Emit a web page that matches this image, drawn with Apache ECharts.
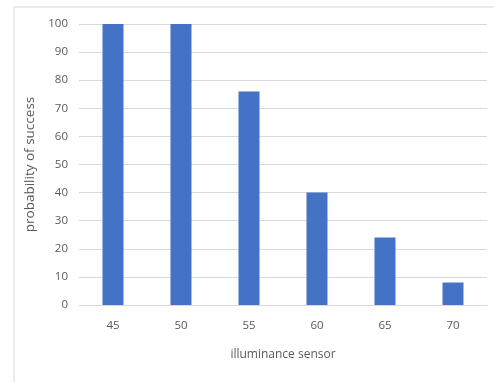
<!DOCTYPE html>
<html><head><meta charset="utf-8">
<script src="https://cdn.jsdelivr.net/npm/echarts@6/dist/echarts.min.js"></script>
<style>html,body{margin:0;padding:0;background:#fff}#c{width:494px;height:382px}</style>
</head><body><div id="c"></div>
<script>
const categories = ['45', '50', '55', '60', '65', '70'];
const successValues = [100, 100, 76, 40, 24, 8];
const yTicks = [0, 10, 20, 30, 40, 50, 60, 70, 80, 90, 100];

const chart = echarts.init(document.getElementById('c'));
const font = 'Open Sans, sans-serif';
chart.setOption({
  animation: false,
  backgroundColor: '#fff',
  graphic: [{
    type: 'rect', left: 11.5, top: 4.5, silent: true,
    shape: { width: 500, height: 376 },
    style: { fill: 'none', stroke: '#d9d9d9', lineWidth: 1 }
  }],
  grid: { left: 79, right: 7, top: 24, bottom: 77, containLabel: false },
  xAxis: {
    type: 'category', data: categories,
    name: 'illuminance sensor', nameLocation: 'middle', nameGap: 44,
    nameTextStyle: { color: '#595959', fontSize: 12, fontFamily: font },
    axisLine: { lineStyle: { color: '#d9d9d9' } },
    axisTick: { show: false },
    axisLabel: { color: '#595959', fontSize: 11.5, fontFamily: font, margin: 15 }
  },
  yAxis: {
    type: 'value', min: yTicks[0], max: yTicks[yTicks.length - 1], interval: 10,
    name: 'probability of success', nameLocation: 'middle', nameGap: 36,
    nameTextStyle: { color: '#595959', fontSize: 13.5, fontFamily: font },
    axisLine: { show: false }, axisTick: { show: false },
    axisLabel: { color: '#595959', fontSize: 11.5, fontFamily: font, margin: 11 },
    splitLine: { lineStyle: { color: '#d9d9d9' } }
  },
  series: [{
    type: 'bar', data: successValues, barWidth: 21,
    itemStyle: { color: '#4472c4' }
  }]
});
</script></body></html>
